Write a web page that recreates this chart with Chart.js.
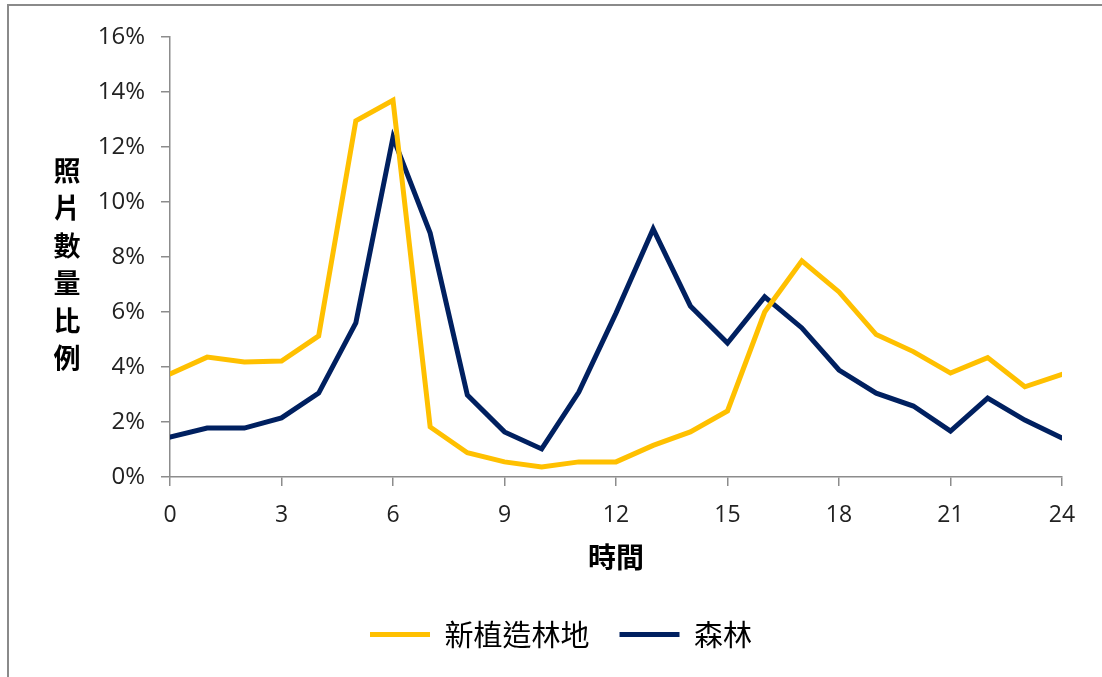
<!DOCTYPE html>
<html>
<head>
<meta charset="utf-8">
<script src="https://cdn.jsdelivr.net/npm/chart.js@4.4.1/dist/chart.umd.min.js"></script>
<style>
  html, body { margin: 0; padding: 0; background: #fff; }
  #wrap { position: relative; width: 1102px; height: 677px; }
  #frame {
    position: absolute; left: 7px; top: 4px; right: 0; bottom: 0;
    border-top: 2px solid #8a8a8a; border-left: 2px solid #8a8a8a;
    pointer-events: none;
  }
  canvas { position: absolute; left: 0; top: 0; }
</style>
</head>
<body>
<div id="wrap">
  <canvas id="grafico" width="1102" height="677"></canvas>
  <div id="frame"></div>
</div>
<script>
// horas do dia
const horas = [0, 1, 2, 3, 4, 5, 6, 7, 8, 9, 10, 11, 12, 13, 14, 15, 16, 17, 18, 19, 20, 21, 22, 23, 24];
// 新植造林地 (%)
const novoPlantio = [3.75, 4.36, 4.18, 4.22, 5.13, 12.95, 13.7, 1.82, 0.88, 0.55, 0.36, 0.55, 0.55, 1.15, 1.64, 2.4, 6.0, 7.86, 6.73, 5.18, 4.56, 3.78, 4.34, 3.28, 3.73];
// 森林 (%)
const floresta = [1.45, 1.78, 1.78, 2.15, 3.05, 5.6, 12.35, 8.87, 2.98, 1.64, 1.02, 3.09, 5.96, 9.02, 6.22, 4.87, 6.55, 5.42, 3.89, 3.05, 2.58, 1.67, 2.87, 2.07, 1.42];
const nomesSeries = ["新植造林地", "森林"];
const tituloY = ["照", "片", "數", "量", "比", "例"];
const tituloX = "時間";

const cinza = "#8c8c8c";
const fonteNum = '"Open Sans", "Liberation Sans", sans-serif';
const fonteCJK = '"Noto Sans CJK TC", "Noto Sans CJK SC", sans-serif';

function pontos(valores) {
  return horas.map((h, i) => ({ x: h, y: valores[i] }));
}

// título vertical, um caractere por linha
const tituloVertical = {
  id: "tituloVertical",
  afterDraw(chart) {
    const { ctx, chartArea } = chart;
    const passo = 37.5;
    const meio = (chartArea.top + chartArea.bottom) / 2 + 7;
    const y0 = meio - passo * (tituloY.length - 1) / 2;
    ctx.save();
    ctx.font = "bold 27px " + fonteCJK;
    ctx.fillStyle = "#000";
    ctx.textAlign = "center";
    ctx.textBaseline = "middle";
    tituloY.forEach((c, i) => ctx.fillText(c, 67, y0 + i * passo));
    ctx.restore();
  }
};

new Chart(document.getElementById("grafico").getContext("2d"), {
  type: "line",
  data: {
    datasets: [
      {
        label: nomesSeries[0],
        data: pontos(novoPlantio),
        borderColor: "#FFC000",
        backgroundColor: "#FFC000",
        borderWidth: 5,
        borderCapStyle: "round",
        pointRadius: 0,
        tension: 0
      },
      {
        label: nomesSeries[1],
        data: pontos(floresta),
        borderColor: "#002060",
        backgroundColor: "#002060",
        borderWidth: 5,
        borderCapStyle: "round",
        pointRadius: 0,
        tension: 0
      }
    ]
  },
  options: {
    responsive: false,
    animation: false,
    // esquerda 60 só para a legenda ficar no mesmo lugar do original
    layout: { padding: { top: 37, right: 40, left: 60, bottom: 18 } },
    plugins: {
      tooltip: { enabled: false },
      legend: {
        position: "bottom",
        labels: {
          usePointStyle: true,
          pointStyle: "line",
          pointStyleWidth: 60,
          padding: 30,
          color: "#000",
          font: { family: fonteCJK, size: 29 }
        }
      }
    },
    scales: {
      x: {
        type: "linear",
        min: 0,
        max: 24,
        afterFit(scale) { scale.height = 113; },
        ticks: {
          stepSize: 3,
          padding: 16,
          color: "#222",
          font: { family: fonteNum, size: 23 }
        },
        grid: { drawOnChartArea: false, tickLength: 9, color: cinza, lineWidth: 1.5 },
        border: { color: cinza, width: 1.5 },
        title: {
          display: true,
          text: tituloX,
          color: "#000",
          font: { family: fonteCJK, size: 28, weight: "bold" },
          padding: { top: 0, bottom: 16 }
        }
      },
      y: {
        min: 0,
        max: 16,
        afterFit(scale) { scale.width = 110; },
        ticks: {
          stepSize: 2,
          padding: 16,
          color: "#222",
          font: { family: fonteNum, size: 24 },
          callback: v => v + "%"
        },
        grid: { drawOnChartArea: false, tickLength: 9, color: cinza, lineWidth: 1.5 },
        border: { color: cinza, width: 1.5 }
      }
    }
  },
  plugins: [tituloVertical]
});
</script>
</body>
</html>
